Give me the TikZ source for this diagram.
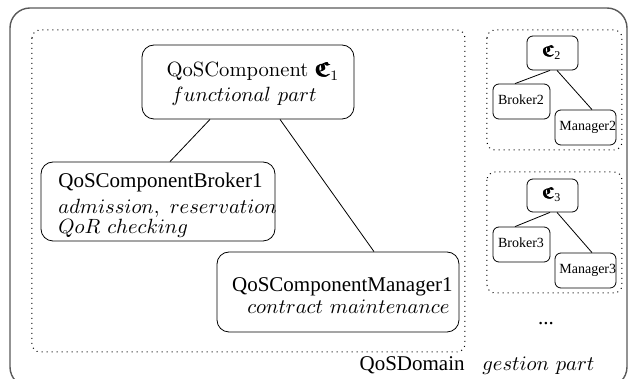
\RequirePackage{fix-cm}
\documentclass[tikz,border=0pt]{standalone}
\usepackage{amsmath,amssymb}
\usepackage{fontspec}
\newfontfamily\tms{Liberation Serif}
\newcommand{\bfC}{\pmb{\boldsymbol{\mathfrak{C}}}}
\begin{document}
\begin{tikzpicture}[x=0.5pt,y=-0.5pt,
  box/.style={draw,rounded corners=6pt,inner sep=0pt},
  sbox/.style={draw,rounded corners=3pt,inner sep=0pt},
  dom/.style={draw,dotted,line width=0.5pt,rounded corners=4pt},
  txt/.style={inner sep=0pt,font=\fontsize{10.3}{12.4}\selectfont},
  ttxt/.style={inner sep=0pt,font=\fontsize{10.5}{12.6}\selectfont\tms},
  stxt/.style={inner sep=0pt,font=\fontsize{7}{8.4}\selectfont\tms},
  link/.style={draw,line width=0.4pt}]
\useasboundingbox (0,0) rectangle (629,379);
% outer frame
\draw[gray!70!black,line width=0.7pt,rounded corners=10pt] (10,8) rectangle (627,387);
% domain boxes
\draw[dom] (32,30) rectangle (465,352);
\draw[dom] (487,30) rectangle (622,150);
\draw[dom] (487,172) rectangle (622,293);
% main component boxes
\node[box,minimum width=106pt,minimum height=37pt] (c1) at (248,82) {};
\node[box,minimum width=117pt,minimum height=39.5pt] (b1) at (158,201.5) {};
\node[box,minimum width=121pt,minimum height=40pt] (m1) at (338,292) {};
\draw[link] ([xshift=-19pt]c1.south) -- ([xshift=6pt]b1.north);
\draw[link] ([xshift=16pt]c1.south) -- ([xshift=18pt]m1.north);
% texts
\node[txt,anchor=base] (c1t) at (253,77) {QoSComponent $\bfC_1$};
\node[txt,anchor=base] (c1f) at (244,102) {$functional\ part$};
\node[ttxt,anchor=base west] (b1t) at (58,188) {QoSComponentBroker1};
\node[txt,anchor=base west] (b1a) at (58,214) {$admission,\ reservation$};
\node[txt,anchor=base west] (b1q) at (58,234) {$QoR\ checking$};
\node[ttxt,anchor=base east] (m1t) at (453,292) {QoSComponentManager1};
\node[txt,anchor=base east] (m1c) at (450,314) {$contract\ maintenance$};
% small domain 2
\node[sbox,minimum width=25.5pt,minimum height=17pt] (c2) at (552.5,53) {};
\node[sbox,minimum width=28.5pt,minimum height=17.5pt] (b2) at (521.5,101.5) {};
\node[sbox,minimum width=30.5pt,minimum height=17.5pt] (m2) at (585.5,127.5) {};
\node[inner sep=0pt,anchor=base] (c2t) at (552,57) {\fontsize{8}{9}\selectfont$\bfC_{\text{\tms 2}}$};
\node[stxt,anchor=base] (b2t) at (521,105) {Broker2};
\node[stxt,anchor=base west] (m2t) at (559,131) {Manager2};
\draw[link] ([xshift=-1.25pt]c2.south) -- ([xshift=-3.25pt]b2.north);
\draw[link] ([xshift=2.25pt]c2.south) -- ([xshift=3.25pt]m2.north);
% small domain 3
\node[sbox,minimum width=25.5pt,minimum height=16.5pt] (c3) at (552.5,195.5) {};
\node[sbox,minimum width=28.5pt,minimum height=17.5pt] (b3) at (521.5,244.5) {};
\node[sbox,minimum width=30.5pt,minimum height=17.5pt] (m3) at (585.5,270.5) {};
\node[inner sep=0pt,anchor=base] (c3t) at (552,199) {\fontsize{8}{9}\selectfont$\bfC_{\text{\tms 3}}$};
\node[stxt,anchor=base] (b3t) at (521,248) {Broker3};
\node[stxt,anchor=base west] (m3t) at (559,274) {Manager3};
\draw[link] ([xshift=-1.25pt]c3.south) -- ([xshift=-3.25pt]b3.north);
\draw[link] ([xshift=2.25pt]c3.south) -- ([xshift=3.25pt]m3.north);
% bottom texts
\node[ttxt,anchor=base] (dots) at (546,325) {...};
\node[ttxt,anchor=base east] (qd) at (465,371) {QoSDomain};
\node[txt,anchor=base west] (gp) at (482,371) {$gestion\ part$};
\end{tikzpicture}
\end{document}
